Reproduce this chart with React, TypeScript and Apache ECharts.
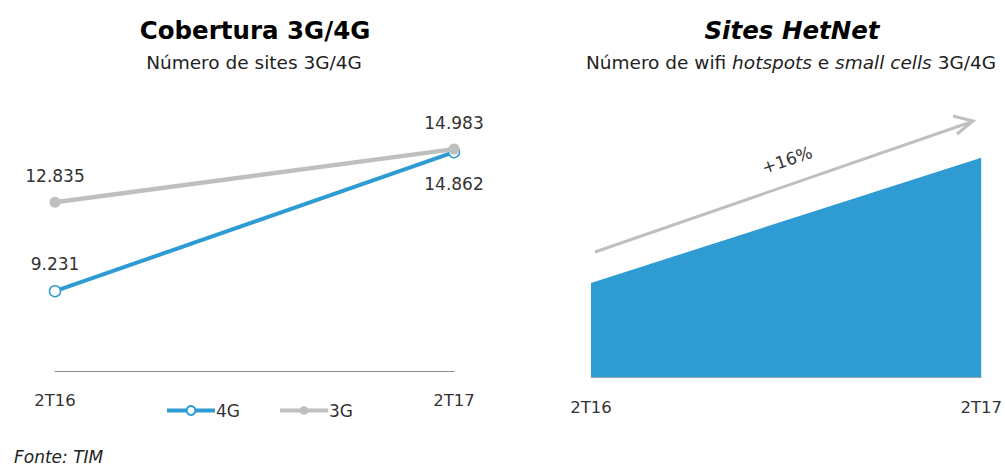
import React, { useEffect, useRef } from "react";
import * as echarts from "echarts";

const periods = ["2T16", "2T17"];
const sites4G = [9231, 14862];
const sites3G = [12835, 14983];
const hetnetIndex = [100, 116];
const growthLabel = "+16%";

const FONT = "DejaVu Sans";
const BLUE = "#2E9BD3";
const GRAY = "#BFBFBF";
const TEXT = "#333333";

function fmt(v: number): string {
  const s = String(Math.round(v));
  return s.replace(/\B(?=(\d{3})+(?!\d))/g, ".");
}

export default function App() {
  const ref = useRef<HTMLDivElement>(null);
  useEffect(() => {
    if (!ref.current) return;
    const chart = echarts.init(ref.current, undefined, { renderer: "svg" });
    const labelBase = { color: TEXT, fontFamily: FONT, fontSize: 17 };
    chart.setOption({
      animation: false,
      textStyle: { fontFamily: FONT },
      title: [
        {
          text: "Cobertura 3G/4G",
          left: 250,
          top: 13,
          textAlign: "center",
          textStyle: { fontFamily: FONT, fontSize: 24.5, fontWeight: "bold", color: "#000" },
        },
        {
          text: "Número de sites 3G/4G",
          left: 249,
          top: 48,
          textAlign: "center",
          textStyle: { fontFamily: FONT, fontSize: 18.5, fontWeight: "normal", color: "#222" },
        },
        {
          text: "Sites HetNet",
          left: 787,
          top: 13,
          textAlign: "center",
          textStyle: { fontFamily: FONT, fontSize: 24.5, fontWeight: "bold", fontStyle: "italic", color: "#000" },
        },
        {
          text: "Número de wifi {i|hotspots} e {i|small cells} 3G/4G",
          left: 786,
          top: 48,
          textAlign: "center",
          textStyle: {
            fontFamily: FONT,
            fontSize: 18.5,
            fontWeight: "normal",
            color: "#222",
            rich: { i: { fontFamily: FONT, fontSize: 18.5, fontStyle: "italic", color: "#222" } },
          },
        },
        {
          text: "Fonte: TIM",
          left: 9,
          top: 443,
          textStyle: { fontFamily: FONT, fontSize: 17, fontWeight: "normal", fontStyle: "italic", color: "#222" },
        },
      ],
      legend: {
        left: 160,
        top: 397,
        itemWidth: 48,
        itemHeight: 11,
        itemGap: 38,
        lineStyle: { width: 4 },
        textStyle: { fontFamily: FONT, fontSize: 17, color: TEXT, padding: [0, 0, 0, -4] },
        data: ["4G", "3G"],
      },
      grid: [
        { left: 55, width: 399, top: 124, height: 247 },
        { left: 591, width: 393, top: 142, height: 235 },
      ],
      xAxis: [
        {
          type: "category",
          gridIndex: 0,
          data: periods,
          boundaryGap: false,
          axisLine: { lineStyle: { color: "#8C8C8C", width: 1 } },
          axisTick: { show: false },
          axisLabel: { color: TEXT, fontFamily: FONT, fontSize: 16.5, margin: 21 },
        },
        {
          type: "category",
          gridIndex: 1,
          data: periods,
          boundaryGap: false,
          axisLine: { lineStyle: { color: "#A6A6A6", width: 1 } },
          axisTick: { show: false },
          axisLabel: { color: TEXT, fontFamily: FONT, fontSize: 16.5, margin: 22 },
        },
      ],
      yAxis: [
        { type: "value", gridIndex: 0, min: 6000, max: 16000, show: false },
        { type: "value", gridIndex: 1, min: 88, max: 118, show: false },
      ],
      series: [
        {
          name: "4G",
          type: "line",
          xAxisIndex: 0,
          yAxisIndex: 0,
          data: [
            { value: sites4G[0], label: { position: "top", distance: 12 } },
            { value: sites4G[1], label: { position: "bottom", distance: 17 } },
          ],
          z: 2,
          color: BLUE,
          lineStyle: { color: BLUE, width: 4 },
          symbol: "circle",
          symbolSize: 11,
          itemStyle: { color: "#fff", borderColor: BLUE, borderWidth: 1.5 },
          label: {
            show: true,
            ...labelBase,
            formatter: (p: any) => fmt(p.value),
          },
          emphasis: { disabled: true },
        },
        {
          name: "3G",
          type: "line",
          xAxisIndex: 0,
          yAxisIndex: 0,
          data: sites3G,
          z: 3,
          color: GRAY,
          lineStyle: { color: GRAY, width: 4.5 },
          symbol: "circle",
          symbolSize: 11,
          itemStyle: { color: GRAY },
          label: {
            show: true,
            ...labelBase,
            position: "top",
            distance: 12,
            formatter: (p: any) => fmt(p.value),
          },
          emphasis: { disabled: true },
        },
        {
          name: "HetNet",
          type: "line",
          xAxisIndex: 1,
          yAxisIndex: 1,
          data: hetnetIndex,
          symbol: "none",
          lineStyle: { width: 0 },
          areaStyle: { color: BLUE, opacity: 1 },
          emphasis: { disabled: true },
        },
      ],
      graphic: [
        {
          type: "line",
          shape: { x1: 595, y1: 252, x2: 971, y2: 122 },
          style: { stroke: GRAY, lineWidth: 3 },
        },
        {
          type: "polyline",
          shape: { points: [[953, 116], [973, 121], [957, 134]] },
          style: { stroke: GRAY, lineWidth: 3, fill: null },
        },
        {
          type: "text",
          x: 787,
          y: 160,
          rotation: 0.33,
          style: {
            text: growthLabel,
            fontFamily: FONT,
            fontSize: 17,
            fill: TEXT,
            align: "center",
            verticalAlign: "middle",
          },
        },
      ],
    });
    return () => chart.dispose();
  }, []);
  return (
    <div
      ref={ref}
      style={{ position: "fixed", left: 0, top: 0, width: 1005, height: 467, background: "#fff" }}
    />
  );
}
